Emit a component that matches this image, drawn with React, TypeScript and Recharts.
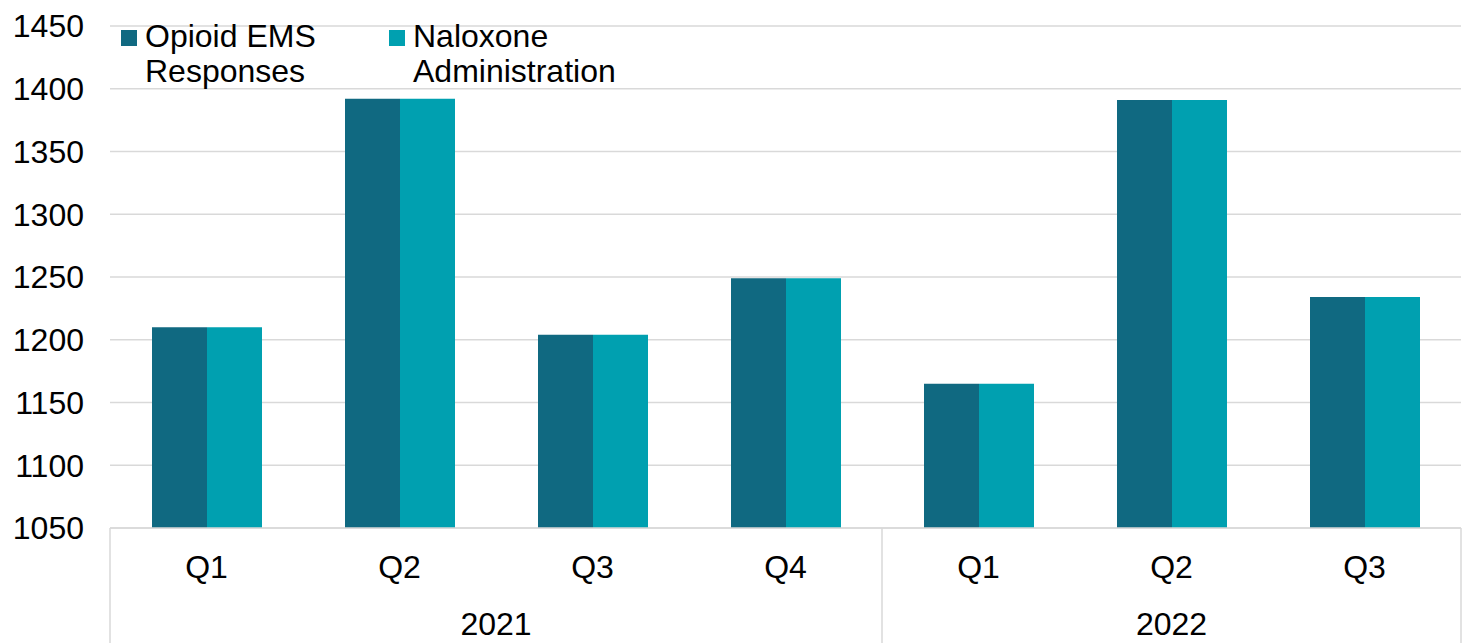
import React from 'react';
import { BarChart, Bar, XAxis, YAxis, CartesianGrid, Legend } from 'recharts';

const quarters = ['Q1', 'Q2', 'Q3', 'Q4', 'Q1', 'Q2', 'Q3'];
const years = ['2021', '2021', '2021', '2021', '2022', '2022', '2022'];
const opioidEms = [1210, 1392, 1204, 1249, 1165, 1391, 1234];
const naloxone = [1210, 1392, 1204, 1249, 1165, 1391, 1234];
const yTicks = [1050, 1100, 1150, 1200, 1250, 1300, 1350, 1400, 1450];

const SERIES = [
  { key: 'opioid', name: 'Opioid EMS', name2: 'Responses', color: '#106981' },
  { key: 'naloxone', name: 'Naloxone', name2: 'Administration', color: '#00A0B0' },
];

const FONT = '"Liberation Sans", Arial, sans-serif';
const CHART_W = 1463;
const CHART_H = 635;
const PLOT_LEFT = 102;
const PLOT_RIGHT = 10;
const Q_AXIS_H = 60;
const YEAR_AXIS_H = 55;
const Q_MARGIN = 27;
const GRID = '#d9d9d9';

const data = quarters.map((q, i) => ({
  q,
  year: years[i],
  opioid: opioidEms[i],
  naloxone: naloxone[i],
}));

const halfBand = (payload: any) =>
  payload && payload.offset ? payload.offset : (CHART_W - PLOT_LEFT - PLOT_RIGHT) / quarters.length / 2;

const QuarterTick = (props: any) => {
  const { x, y, payload, index } = props;
  const half = halfBand(payload);
  const top = y - Q_MARGIN;
  const bottom = top + Q_AXIS_H + YEAR_AXIS_H;
  const lines: number[] = [];
  if (index === 0 || years[index] !== years[index - 1]) lines.push(x - half);
  if (index === quarters.length - 1) lines.push(x + half);
  return (
    <g>
      {lines.map((lx, i) => (
        <line key={i} x1={lx} x2={lx} y1={top} y2={bottom} stroke={GRID} strokeWidth={1.5} />
      ))}
      <text x={x} y={y} dy="0.71em" textAnchor="middle" fill="#000" fontSize={32} fontFamily={FONT}>
        {payload.value}
      </text>
    </g>
  );
};

const YearTick = (props: any) => {
  const { x, y, payload, index } = props;
  if (index > 0 && years[index] === years[index - 1]) return <g />;
  const half = halfBand(payload);
  let n = 0;
  while (index + n < years.length && years[index + n] === years[index]) n++;
  const cx = x - half + n * half;
  return (
    <text x={cx} y={y} dy="0.71em" textAnchor="middle" fill="#000" fontSize={32} fontFamily={FONT}>
      {years[index]}
    </text>
  );
};

const renderLegend = () => (
  <div style={{ display: 'flex', fontFamily: FONT, fontSize: 32, lineHeight: '35px', color: '#000' }}>
    {SERIES.map((s) => (
      <div key={s.key} style={{ display: 'flex', alignItems: 'flex-start', width: 268 }}>
        <div style={{ width: 16, height: 16, background: s.color, marginTop: 11, marginRight: 8 }} />
        <div>
          <div>{s.name}</div>
          <div>{s.name2}</div>
        </div>
      </div>
    ))}
  </div>
);

export default function App() {
  return (
    <div style={{ position: 'relative', width: CHART_W, height: CHART_H }}>
      <BarChart
        width={CHART_W}
        height={CHART_H}
        data={data}
        margin={{ top: 18, right: PLOT_RIGHT, left: 0, bottom: 0 }}
        barGap={0}
      >
        <CartesianGrid vertical={false} stroke={GRID} strokeWidth={1.5} />
        <XAxis
          dataKey="q"
          interval={0}
          height={Q_AXIS_H}
          tickLine={false}
          tickSize={0}
          tickMargin={Q_MARGIN}
          axisLine={{ stroke: GRID, strokeWidth: 1.5 }}
          tick={(p: any) => <QuarterTick {...p} />}
        />
        <XAxis
          xAxisId="year"
          dataKey="year"
          interval={0}
          height={YEAR_AXIS_H}
          tickLine={false}
          tickSize={0}
          tickMargin={24}
          axisLine={false}
          tick={(p: any) => <YearTick {...p} />}
        />
        <YAxis
          width={PLOT_LEFT}
          domain={[1050, 1450]}
          ticks={yTicks}
          interval={0}
          allowDataOverflow
          axisLine={false}
          tickLine={false}
          tickSize={0}
          tickMargin={26}
          tick={{ fill: '#000', fontSize: 32, fontFamily: FONT }}
        />
        <Legend
          layout="horizontal"
          verticalAlign="middle"
          content={renderLegend}
          wrapperStyle={{ top: 11, left: 113, width: 'auto', height: 'auto' }}
        />
        {SERIES.map((s) => (
          <Bar key={s.key} dataKey={s.key} name={s.name} fill={s.color} barSize={55} isAnimationActive={false} />
        ))}
      </BarChart>
    </div>
  );
}
